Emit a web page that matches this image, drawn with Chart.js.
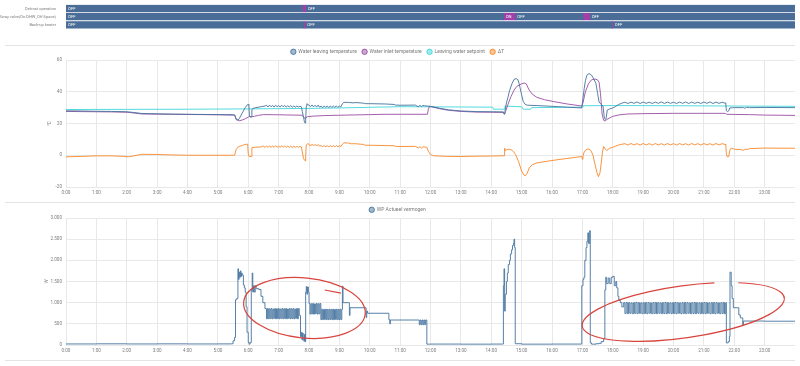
<!DOCTYPE html>
<html><head><meta charset="utf-8">
<script src="https://cdn.jsdelivr.net/npm/chart.js@4.4.0/dist/chart.umd.min.js"></script>
<style>
html,body{margin:0;padding:0;background:#fff;width:800px;height:366px;overflow:hidden;font-family:Roboto,sans-serif}
canvas{position:absolute;left:0}
.sep{position:absolute;left:5px;width:790px;height:1px;background:#e4e4e4}
</style></head><body>
<div class="sep" style="top:45px"></div>
<div class="sep" style="top:202px"></div>
<div class="sep" style="top:360px"></div>
<canvas id="c1" width="800" height="41" style="top:0"></canvas>
<canvas id="c2" width="800" height="155" style="top:44px"></canvas>
<canvas id="c3" width="800" height="155" style="top:202px"></canvas>
<script>
// ---------------- DATA ----------------
const hourTicks = ['0:00','1:00','2:00','3:00','4:00','5:00','6:00','7:00','8:00','9:00','10:00','11:00','12:00','13:00','14:00','15:00','16:00','17:00','18:00','19:00','20:00','21:00','22:00','23:00'];
const timelineRows = ['Defrost operation','3way valve(On:DHW_Off:Space)','Back-up heater'];
const defrostStates = [['OFF',0,7.79],['ON',7.79,7.89],['OFF',7.89,24]];
const valveStates = [['OFF',0,14.41],['ON',14.41,14.79],['OFF',14.79,17.02],['ON',17.02,17.24],['OFF',17.24,24]];
const heaterStates = [['OFF',0,7.83],['ON',7.83,7.88],['OFF',7.88,17.97],['ON',17.97,18.0],['OFF',18.0,24]];

const tempSeriesNames = ['Water leaving temperature','Water inlet temperature','Leaving water setpoint','\u0394T'];
const tempLeaving = [[0,28.0],[0.5,27.9],[1,27.7],[1.5,27.6],[2,27.4],[2.2,27.0],[2.5,26.3],[3,26.1],[3.5,25.9],[4,25.8],[4.5,25.7],[5,25.6],[5.5,25.5],
[5.56,25.3],[5.6,22.5],[5.65,22.0],[5.7,23.0],[5.8,26.5],[5.9,30.0],[5.97,31.8],[6.0,32.0],[6.02,31.5],[6.04,24.5],[6.08,23.9],[6.1,24.2],[6.12,28.5],[6.15,29.5],[6.25,30.0],[6.4,30.5],[6.55,31.0],
[6.6,31.5],[6.65,30.4],[6.7,31.6],[6.75,30.5],[6.8,31.4],[6.85,30.3],[6.9,31.5],[6.95,30.6],[7.0,31.3],[7.05,30.4],[7.1,31.5],[7.15,30.5],[7.2,31.4],[7.25,30.3],[7.3,31.2],[7.35,30.4],[7.4,31.3],[7.45,30.2],[7.5,31.1],[7.55,30.3],[7.6,31.0],[7.65,30.4],[7.7,30.8],
[7.75,30.5],[7.78,27.5],[7.82,24.0],[7.85,21.0],[7.87,20.3],[7.89,22.0],[7.91,31.0],[7.93,32.5],[7.97,31.8],
[8.0,31.6],[8.05,30.6],[8.1,31.7],[8.15,30.5],[8.2,31.5],[8.25,30.4],[8.3,31.6],[8.35,30.3],[8.4,31.0],[8.45,30.0],[8.5,31.1],[8.55,30.1],[8.6,31.0],[8.65,30.0],[8.7,31.1],[8.75,30.1],[8.8,31.0],[8.85,30.2],[8.9,31.1],[8.95,30.1],[9.0,31.0],[9.05,30.5],
[9.1,32.5],[9.15,33.3],[9.3,33.3],[9.45,33.0],[9.55,33.2],[9.8,32.8],[9.85,32.5],[10,32.5],[10.5,32.3],[10.8,32.0],[10.85,31.6],[11,31.5],[11.5,31.6],[11.6,30.5],[11.65,31.5],[11.7,30.6],[11.75,31.4],[11.8,31.2],[11.88,31.0],
[12,30.8],[12.3,29.6],[12.6,28.6],[13,27.9],[13.5,27.5],[14,27.4],[14.4,27.3],[14.43,26.0],[14.45,27.5],[14.5,33.0],[14.55,36.5],[14.6,40.5],[14.68,45.0],[14.75,47.8],[14.82,48.3],[14.88,47.5],[14.92,45.0],[15.0,38.0],[15.05,34.0],[15.12,32.0],[15.2,31.5],[15.5,31.3],[16,30.8],[16.5,30.3],[16.98,29.8],
[17.02,36.0],[17.06,42.0],[17.1,47.0],[17.15,50.5],[17.22,51.5],[17.3,50.5],[17.38,48.0],[17.45,45.0],[17.5,39.0],[17.55,33.5],[17.62,32.0],[17.68,31.0],[17.72,24.0],[17.75,22.5],[17.78,23.0],[17.82,28.5],[17.9,29.2],[18,29.8],[18.1,30.8],[18.2,32.0],[18.3,32.8],
[18.4,33.4],[18.5,32.6],[18.6,33.5],[18.7,32.7],[18.8,33.6],[18.9,32.6],[19.0,33.5],[19.1,32.7],[19.2,33.4],[19.3,32.6],[19.4,33.5],[19.5,32.7],[19.6,33.6],[19.7,32.6],[19.8,33.5],[19.9,32.7],[20.0,33.4],[20.1,32.6],[20.2,33.5],[20.3,32.7],[20.4,33.6],[20.5,32.6],[20.6,33.5],[20.7,32.7],[20.8,33.4],[20.9,32.6],[21.0,33.5],[21.1,32.7],[21.2,33.6],[21.3,32.6],[21.4,33.5],[21.5,32.7],[21.6,33.4],[21.7,32.8],
[21.72,33.0],[21.74,28.0],[21.78,27.5],[21.82,28.0],[21.85,29.8],[22,30.0],[22.3,30.0],[22.35,29.6],[22.4,30.2],[22.5,30.0],[23,30.1],[24,30.0]];

const tempInlet = [[0,27.6],[0.5,27.5],[1,27.4],[1.5,27.3],[2,27.1],[2.2,26.7],[2.5,26.0],[3,25.9],[3.5,25.8],[4,25.7],[5,25.5],[5.55,25.3],[5.6,23.0],[5.7,21.7],[5.8,22.2],[5.9,23.0],[6.0,24.0],[6.05,24.5],[6.1,24.2],[6.2,24.5],[6.35,25.2],[6.5,25.6],[7,25.5],[7.5,25.3],[7.78,25.2],[7.82,24.0],[7.87,23.2],[7.95,24.3],[8.1,24.6],[8.5,25.0],[9,25.2],[9.5,25.4],[10,25.6],[10.5,25.8],[11,25.8],[11.9,25.8],[11.93,29.0],[11.97,30.8],[12,30.7],[12.3,29.3],[12.6,28.3],[13,27.6],[13.5,27.2],[14,27.1],[14.4,27.0],[14.43,25.8],[14.47,27.5],[14.55,32.0],[14.65,37.0],[14.75,41.0],[14.85,43.5],[15,45.0],[15.1,45.5],[15.15,45.0],[15.25,41.0],[15.35,38.5],[15.5,36.5],[15.75,35.0],[16,34.0],[16.5,32.3],[16.98,31.0],[17.02,33.0],[17.1,40.0],[17.2,45.0],[17.3,47.5],[17.42,48.0],[17.5,47.5],[17.55,46.0],[17.6,38.0],[17.65,26.0],[17.7,22.0],[17.75,21.5],[17.8,22.5],[17.9,23.5],[18,24.5],[18.2,25.4],[18.5,26.0],[19,26.2],[20,26.4],[21,26.4],[21.7,26.4],[21.75,25.8],[22,25.7],[22.5,25.6],[23,25.3],[23.5,25.2],[24,25.1]];

const tempSetpoint = [[0,28.8],[2,28.9],[4,29.0],[6,29.2],[8,29.5],[9,29.8],[10,30.2],[11,30.6],[12,30.5],[14.05,30.3],[14.07,29.0],[14.43,29.0],[14.45,31.0],[15.0,30.5],[15.05,29.0],[15.3,29.0],[15.33,30.0],[16,30.1],[17,30.3],[17.02,31.2],[18,31.3],[20,31.2],[22,31.0],[24,30.8]];

const deltaT = [[0,-1.0],[0.5,-0.7],[1,-0.4],[1.5,-0.4],[1.9,-0.7],[2.05,-1.0],[2.2,-0.5],[2.5,0.6],[3,0.5],[3.5,0.2],[4,0],[4.5,0],[5,0],[5.55,0],[5.6,3.5],[5.65,5.0],[5.7,5.5],[5.8,6.2],[5.9,6.8],[5.98,7.0],[6.0,1.0],[6.03,-0.8],[6.1,-0.8],[6.12,4.8],[6.2,5.0],[6.4,5.2],
[6.5,5.8],[6.55,4.9],[6.6,5.9],[6.65,5.0],[6.7,6.0],[6.75,4.9],[6.8,5.9],[6.85,5.0],[6.9,6.0],[6.95,5.0],[7.0,5.9],[7.05,4.9],[7.1,6.0],[7.15,5.0],[7.2,5.8],[7.25,5.0],[7.3,5.9],[7.35,4.9],[7.4,5.8],[7.45,4.9],[7.5,5.7],[7.55,5.0],[7.6,5.6],[7.65,5.0],[7.7,5.5],
[7.75,5.2],[7.78,2.0],[7.82,-2.0],[7.85,-3.0],[7.87,-3.5],[7.89,-1.0],[7.91,6.5],[7.95,7.2],
[8.0,7.0],[8.05,5.8],[8.1,7.0],[8.15,5.9],[8.2,6.9],[8.25,5.8],[8.3,6.8],[8.35,5.6],[8.4,6.2],[8.45,5.2],[8.5,6.2],[8.55,5.2],[8.6,6.1],[8.65,5.1],[8.7,6.2],[8.75,5.2],[8.8,6.1],[8.85,5.2],[8.9,6.2],[8.95,5.3],[9.0,6.0],[9.05,5.5],
[9.1,7.0],[9.15,7.8],[9.3,7.7],[9.4,7.2],[9.5,7.3],[9.8,6.8],[9.85,6.3],[10,6.3],[10.5,6.1],[10.8,6.0],[10.85,5.6],[11,5.5],[11.5,5.6],[11.6,4.6],[11.65,5.4],[11.7,4.5],[11.75,5.3],[11.8,5.2],[11.88,5.0],[11.93,2.5],[12,0.5],[12.1,-0.3],[12.5,-0.7],[13,-0.8],[13.5,-0.6],[14,-0.5],[14.42,-0.3],[14.44,4.5],[14.47,3.0],[14.5,3.5],[14.6,3.8],[14.7,3.0],[14.8,0.5],[14.9,-4.0],[15.0,-10.0],[15.08,-12.5],[15.12,-13.0],[15.18,-11.5],[15.25,-8.0],[15.35,-6.0],[15.5,-4.8],[16,-3.3],[16.5,-2.0],[16.98,-0.8],[17.0,-2.5],[17.02,-0.5],[17.06,2.0],[17.12,3.5],[17.2,4.0],[17.28,3.0],[17.35,0],[17.42,-6.0],[17.48,-11.0],[17.53,-13.5],[17.58,-11.0],[17.62,-5.0],[17.66,2.0],[17.7,5.5],[17.75,4.0],[17.8,3.0],[17.9,4.5],[18,5.0],[18.1,5.8],[18.2,6.5],[18.3,6.9],
[18.4,7.3],[18.5,6.4],[18.6,7.4],[18.7,6.5],[18.8,7.3],[18.9,6.4],[19.0,7.4],[19.1,6.5],[19.2,7.3],[19.3,6.4],[19.4,7.4],[19.5,6.5],[19.6,7.3],[19.7,6.4],[19.8,7.4],[19.9,6.5],[20.0,7.3],[20.1,6.4],[20.2,7.4],[20.3,6.5],[20.4,7.3],[20.5,6.4],[20.6,7.4],[20.7,6.5],[20.8,7.3],[20.9,6.4],[21.0,7.4],[21.1,6.5],[21.2,7.3],[21.3,6.4],[21.4,7.4],[21.5,6.5],[21.6,7.3],[21.7,6.8],
[21.72,7.0],[21.74,1.0],[21.77,-1.0],[21.82,-0.8],[21.85,3.0],[21.9,4.5],[22,3.8],[22.2,3.6],[22.3,3.2],[22.35,3.8],[22.45,3.7],[22.5,4.2],[23,4.5],[24,4.4]];

const powerName = 'WP Actueel vermogen';
const powerW = [[0,25],[1,28],[2,25],[3,27],[4,25],[5,26],[5.45,30],[5.5,100],[5.55,180],[5.58,1070],[5.62,1100],[5.66,1800],[5.68,1550],[5.7,1720],[5.72,1600],[5.74,1750],[5.76,1620],[5.78,1700],[5.8,1650],[5.84,1420],[5.87,1350],[5.9,1250],[5.93,900],[5.96,300],[6.0,60],[6.03,20],[6.06,60],[6.1,1300],[6.13,1700],[6.15,1250],[6.17,1400],[6.2,1250],[6.23,1400],[6.26,1330],[6.35,1310],[6.42,1150],[6.48,1000],[6.55,860],
[6.6,620],[6.63,860],[6.66,620],[6.69,855],[6.72,625],[6.75,860],[6.78,620],[6.81,850],[6.84,630],[6.87,860],[6.9,620],[6.93,855],[6.96,625],[6.99,860],[7.02,620],[7.05,850],[7.08,630],[7.11,860],[7.14,620],[7.17,855],[7.2,625],[7.23,860],[7.26,620],[7.29,850],[7.32,630],[7.35,860],[7.38,620],[7.41,855],[7.44,625],[7.47,860],[7.5,620],[7.53,850],[7.56,630],[7.59,860],[7.62,620],[7.65,860],
[7.68,700],[7.72,200],[7.75,300],[7.77,120],[7.79,280],[7.81,150],[7.83,90],[7.85,250],[7.87,80],[7.89,1250],[7.91,1380],[7.93,1200],[7.95,1370],[7.98,1250],[8.0,980],
[8.03,730],[8.06,975],[8.09,735],[8.12,980],[8.15,730],[8.18,970],[8.21,740],[8.24,980],[8.27,730],[8.3,975],[8.33,735],[8.36,980],
[8.39,600],[8.42,845],[8.45,600],[8.48,840],[8.51,605],[8.54,845],[8.57,600],[8.6,840],[8.63,600],[8.66,845],[8.69,605],[8.72,840],[8.75,600],[8.78,845],[8.81,600],[8.84,840],[8.87,605],[8.9,845],[8.93,600],[8.96,840],[8.99,600],[9.02,845],[9.05,600],
[9.08,840],[9.1,1390],[9.12,1000],[9.3,1000],[9.33,700],[9.35,880],[9.85,880],[9.88,650],[9.9,800],[9.93,750],[10.6,750],[10.63,600],[10.66,500],[10.68,590],[11.6,590],[11.63,480],[11.66,590],[11.69,480],[11.72,590],[11.75,480],[11.78,590],[11.81,480],[11.84,590],[11.88,20],[12,22],[13,20],[14,22],[14.38,25],[14.4,1400],[14.42,1800],[14.44,800],[14.46,1200],[14.5,1500],[14.53,1700],[14.56,1900],[14.6,2000],[14.63,2150],[14.67,2250],[14.7,2350],[14.73,2400],[14.75,2500],[14.77,2300],[14.79,30],[15,20],[16,22],[16.96,25],[16.98,1400],[17.02,1550],[17.05,1600],[17.08,2000],[17.12,2300],[17.15,2450],[17.18,2650],[17.2,2400],[17.24,2700],[17.26,50],[17.3,20],[17.45,30],[17.55,40],[17.62,80],[17.7,150],[17.74,1300],[17.77,1600],[17.8,1450],[17.85,1580],[17.9,1450],[17.95,1600],[18.0,1620],[18.05,1400],[18.1,1500],[18.13,1350],[18.17,1150],[18.2,1050],[18.25,1000],[18.3,900],
[18.36,1000],[18.40,745],[18.44,1005],[18.48,740],[18.52,1000],[18.56,750],[18.60,995],[18.64,740],[18.68,1000],[18.72,745],[18.76,1005],[18.80,740],[18.84,1000],[18.88,750],[18.92,995],[18.96,740],[19.00,1000],[19.04,745],[19.08,1005],[19.12,740],[19.16,1000],[19.20,750],[19.24,995],[19.28,740],[19.32,1000],[19.36,745],[19.40,1005],[19.44,740],[19.48,1000],[19.52,750],[19.56,995],[19.60,740],[19.64,1000],[19.68,745],[19.72,1005],[19.76,740],[19.80,1000],[19.84,750],[19.88,995],[19.92,740],[19.96,1000],[20.00,745],[20.04,1005],[20.08,740],[20.12,1000],[20.16,750],[20.20,995],[20.24,740],[20.28,1000],[20.32,745],[20.36,1005],[20.40,740],[20.44,1000],[20.48,750],[20.52,995],[20.56,740],[20.60,1000],[20.64,745],[20.68,1005],[20.72,740],[20.76,1000],[20.80,750],[20.84,995],[20.88,740],[20.92,1000],[20.96,745],[21.00,1005],[21.04,740],[21.08,1000],[21.12,750],[21.16,995],[21.20,740],[21.24,1000],[21.28,745],[21.32,1005],[21.36,740],[21.40,1000],[21.44,750],[21.48,995],[21.52,740],[21.56,1000],[21.60,745],[21.64,1005],[21.68,740],
[21.72,1000],[21.74,50],[21.8,80],[21.84,200],[21.86,1720],[21.9,1400],[21.93,1100],[21.97,880],[22.12,880],[22.15,710],[22.2,640],[22.28,470],[22.3,566],[23,562],[24,560]];

// hand-drawn red marks on the power chart, in data units (hours, W)
const handDrawnMarks = [
  {cx:7.85, cy:874, rx:2.01, ry:709, rot:5.7, a0:0, a1:360},
  {cx:20.32, cy:780, rx:3.36, ry:614, rot:-8, a0:-55, a1:290}
];
const handDrawnStrokes = [[[8.52,1300],[9.05,1225]]];

// ---------------- STYLE ----------------
const C_BLUE='#44739e', C_PURPLE='#984ea3', C_CYAN='#3fd6d9', C_ORANGE='#f7882a';
const TL_OFF='#4a6d98', TL_ON='#a240a8';
const GRID='#e8e8e8', TICK='#7d7d7d', RED='#d8453e';
const TICK_FONT=4.6;
Chart.defaults.font.family='Roboto';
Chart.defaults.color=TICK;
Chart.defaults.animation=false;

function xAxis(){
  return {type:'linear',min:0,max:24,
    ticks:{stepSize:1,autoSkip:false,maxRotation:0,padding:3,font:{size:TICK_FONT},color:TICK,callback:v=>hourTicks[v]||''},
    grid:{color:c=>(c.tick&&c.tick.value===24)?'rgba(0,0,0,0)':GRID,drawTicks:false,lineWidth:1},
    border:{display:false},
    afterFit(s){s.height=12;}};
}
function toXY(a){return a.map(p=>({x:p[0],y:p[1]}));}
function alpha(hex,a){const n=parseInt(hex.slice(1),16);return `rgba(${n>>16},${(n>>8)&255},${n&255},${a})`;}

// ---------------- TIMELINE ----------------
const rowsStates=[defrostStates,valveStates,heaterStates];
const maxSeg=Math.max(...rowsStates.map(r=>r.length));
const tlDatasets=[];
for(let s=0;s<maxSeg;s++){
  tlDatasets.push({
    data:rowsStates.map(r=>r[s]?[r[s][1],r[s][2]]:null),
    states:rowsStates.map(r=>r[s]?r[s][0]:null),
    backgroundColor:rowsStates.map(r=>(r[s]&&r[s][0]==='ON')?TL_ON:TL_OFF),
    borderWidth:0,borderSkipped:false,barThickness:6.6,grouped:false
  });
}
const timelineText={id:'timelineText',afterDatasetsDraw(chart){
  const ctx=chart.ctx;ctx.save();ctx.font='4.2px Roboto';ctx.fillStyle='#ffffff';ctx.textBaseline='middle';
  chart.data.datasets.forEach((ds,di)=>{
    chart.getDatasetMeta(di).data.forEach((el,i)=>{
      const st=ds.states[i];if(!st)return;
      const p=el.getProps(['x','base','y'],true);
      const l=Math.min(p.x,p.base),w=Math.abs(p.x-p.base);
      const tw=ctx.measureText(st).width;
      if(w>tw+3)ctx.fillText(st,l+2,p.y+0.3);
    });
  });
  ctx.restore();}};
new Chart(document.getElementById('c1'),{
  type:'bar',
  data:{labels:timelineRows,datasets:tlDatasets},
  options:{responsive:false,indexAxis:'y',layout:{padding:{top:1,right:5,left:0,bottom:0}},
    plugins:{legend:{display:false},tooltip:{enabled:false}},
    scales:{
      x:Object.assign(xAxis(),{grid:{display:false},ticks:{stepSize:1,autoSkip:false,maxRotation:0,padding:4,font:{size:TICK_FONT},color:TICK,callback:v=>hourTicks[v]||''}}),
      y:{type:'category',grid:{display:false},border:{display:false},ticks:{autoSkip:false,padding:2,font:{size:4.0},color:TICK},afterFit(s){s.width=66;}}
    }},
  plugins:[timelineText]
});

// ---------------- TEMPERATURES ----------------
function lineDs(label,arr,color){
  return {label,data:toXY(arr),borderColor:color,backgroundColor:alpha(color,0.5),borderWidth:0.9,pointRadius:0,pointStyle:'circle',tension:0,fill:false};
}
const legendOpts={position:'top',maxHeight:16,labels:{usePointStyle:true,pointStyle:'circle',boxHeight:3.8,padding:5.3,font:{size:5},color:'#7a7a7a'}};
new Chart(document.getElementById('c2'),{
  type:'line',
  data:{datasets:[lineDs(tempSeriesNames[0],tempLeaving,C_BLUE),lineDs(tempSeriesNames[1],tempInlet,C_PURPLE),lineDs(tempSeriesNames[2],tempSetpoint,C_CYAN),lineDs(tempSeriesNames[3],deltaT,C_ORANGE)]},
  options:{responsive:false,layout:{padding:{top:0,right:5,left:0,bottom:0}},
    plugins:{legend:legendOpts,tooltip:{enabled:false}},
    scales:{x:xAxis(),
      y:{min:-20,max:60,ticks:{stepSize:20,padding:4,font:{size:TICK_FONT},color:TICK},grid:{color:GRID,drawTicks:false},border:{display:false},
        title:{display:true,text:'°C',font:{size:TICK_FONT},color:TICK,padding:{top:47.4,bottom:0}},afterFit(s){s.width=66;}}}}
});

// ---------------- POWER ----------------
const marksPlugin={id:'handMarks',afterDatasetsDraw(chart){
  const {x,y}=chart.scales;const ctx=chart.ctx;ctx.save();ctx.strokeStyle=RED;ctx.lineWidth=1.2;
  handDrawnMarks.forEach(m=>{
    const px=x.getPixelForValue(m.cx),py=y.getPixelForValue(m.cy);
    const rx=x.getPixelForValue(m.cx+m.rx)-px,ry=py-y.getPixelForValue(m.cy+m.ry);
    ctx.beginPath();ctx.ellipse(px,py,rx,ry,m.rot*Math.PI/180,m.a0*Math.PI/180,m.a1*Math.PI/180);ctx.stroke();
  });
  handDrawnStrokes.forEach(s=>{ctx.beginPath();s.forEach((p,i)=>{const X=x.getPixelForValue(p[0]),Y=y.getPixelForValue(p[1]);i?ctx.lineTo(X,Y):ctx.moveTo(X,Y);});ctx.stroke();});
  ctx.restore();}};
function fmtW(v){return v>=1000?Math.floor(v/1000)+'.'+String(v%1000).padStart(3,'0'):String(v);}
const pds=lineDs(powerName,powerW,C_BLUE);pds.stepped=true;
new Chart(document.getElementById('c3'),{
  type:'line',
  data:{datasets:[pds]},
  options:{responsive:false,layout:{padding:{top:0,right:5,left:0,bottom:0}},
    plugins:{legend:legendOpts,tooltip:{enabled:false}},
    scales:{x:xAxis(),
      y:{min:0,max:3000,ticks:{stepSize:500,padding:4,font:{size:TICK_FONT},color:TICK,callback:fmtW},grid:{color:GRID,drawTicks:false},border:{display:false},
        title:{display:true,text:'W',font:{size:TICK_FONT},color:TICK,padding:{top:44.4,bottom:0}},afterFit(s){s.width=66;}}}},
  plugins:[marksPlugin]
});
</script>
</body></html>
